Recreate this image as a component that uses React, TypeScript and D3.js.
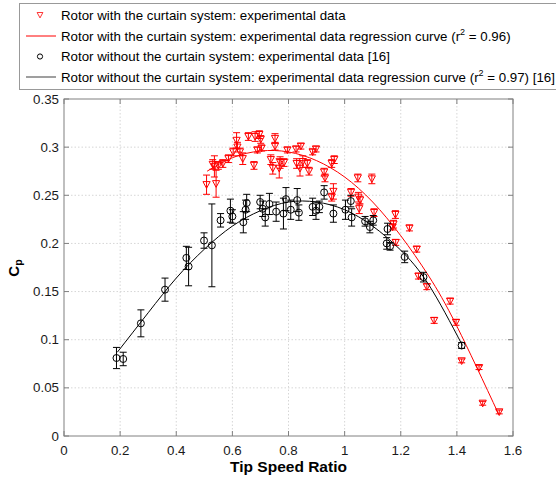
import React from "react";
import * as d3 from "d3";

// ---- data ----
const xTicks = [0, 0.2, 0.4, 0.6, 0.8, 1, 1.2, 1.4, 1.6];
const yTicks = [0, 0.05, 0.1, 0.15, 0.2, 0.25, 0.3, 0.35];

// Rotor with the curtain system: experimental data
const curtainTsr = [0.508, 0.536, 0.542, 0.530, 0.550, 0.566, 0.586, 0.603, 0.615, 0.618, 0.627, 0.637, 0.657, 0.681, 0.696, 0.701, 0.677, 0.689, 0.704, 0.737, 0.752, 0.752, 0.744, 0.767, 0.770, 0.784, 0.796, 0.827, 0.844, 0.829, 0.841, 0.851, 0.867, 0.873, 0.886, 0.898, 0.927, 0.930, 0.954, 0.963, 0.960, 0.954, 1.023, 1.047, 1.049, 1.055, 1.052, 1.097, 1.105, 1.174, 1.171, 1.181, 1.182, 1.231, 1.257, 1.263, 1.293, 1.319, 1.376, 1.397, 1.417, 1.479, 1.492, 1.551];
const curtainCp = [0.261, 0.280, 0.262, 0.282, 0.281, 0.283, 0.288, 0.295, 0.307, 0.300, 0.295, 0.288, 0.311, 0.311, 0.313, 0.308, 0.281, 0.297, 0.299, 0.287, 0.309, 0.301, 0.278, 0.278, 0.284, 0.284, 0.297, 0.298, 0.301, 0.283, 0.278, 0.285, 0.283, 0.275, 0.295, 0.298, 0.274, 0.268, 0.283, 0.287, 0.254, 0.248, 0.253, 0.268, 0.248, 0.245, 0.236, 0.267, 0.232, 0.220, 0.217, 0.230, 0.201, 0.216, 0.194, 0.166, 0.155, 0.120, 0.140, 0.118, 0.078, 0.071, 0.034, 0.025];
const curtainErr = [0.010, 0.011, 0.014, 0.005, 0.004, 0.004, 0.004, 0.004, 0.008, 0.005, 0.004, 0.006, 0.004, 0.005, 0.004, 0.004, 0.004, 0.003, 0.003, 0.005, 0.005, 0.004, 0.006, 0.010, 0.006, 0.004, 0.003, 0.003, 0.003, 0.005, 0.008, 0.006, 0.004, 0.004, 0.003, 0.003, 0.004, 0.004, 0.004, 0.004, 0.008, 0.004, 0.004, 0.004, 0.005, 0.004, 0.005, 0.005, 0.004, 0.004, 0.003, 0.004, 0.003, 0.003, 0.003, 0.003, 0.003, 0.003, 0.003, 0.003, 0.002, 0.002, 0.002, 0.002];

// Rotor with the curtain system: regression curve
const curtainFitTsr = [0.51, 0.6, 0.7, 0.8, 0.9, 1.0, 1.1, 1.2, 1.3, 1.4, 1.55];
const curtainFitCp = [0.275, 0.289, 0.296, 0.295, 0.286, 0.269, 0.243, 0.208, 0.166, 0.114, 0.022];

// Rotor without the curtain system: experimental data [16]
const bareTsr = [0.187, 0.211, 0.274, 0.360, 0.436, 0.444, 0.499, 0.527, 0.558, 0.593, 0.600, 0.639, 0.647, 0.651, 0.699, 0.708, 0.717, 0.732, 0.756, 0.782, 0.791, 0.808, 0.831, 0.837, 0.886, 0.898, 0.910, 0.927, 0.960, 1.003, 1.022, 1.025, 1.073, 1.090, 1.102, 1.150, 1.153, 1.162, 1.214, 1.281, 1.417];
const bareCp = [0.081, 0.080, 0.117, 0.152, 0.185, 0.176, 0.203, 0.198, 0.224, 0.234, 0.228, 0.222, 0.235, 0.242, 0.243, 0.236, 0.227, 0.241, 0.233, 0.231, 0.246, 0.235, 0.245, 0.232, 0.238, 0.234, 0.238, 0.253, 0.231, 0.235, 0.244, 0.227, 0.223, 0.217, 0.224, 0.200, 0.215, 0.197, 0.186, 0.165, 0.094];
const bareErr = [0.011, 0.007, 0.014, 0.012, 0.012, 0.020, 0.008, 0.043, 0.007, 0.012, 0.007, 0.011, 0.010, 0.009, 0.007, 0.008, 0.009, 0.011, 0.010, 0.016, 0.012, 0.010, 0.012, 0.008, 0.009, 0.009, 0.006, 0.007, 0.009, 0.010, 0.006, 0.009, 0.005, 0.006, 0.005, 0.006, 0.006, 0.004, 0.006, 0.005, 0.003];

// Rotor without the curtain system: regression curve [16]
const bareFitTsr = [0.19, 0.3, 0.4, 0.5, 0.6, 0.7, 0.8, 0.9, 1.0, 1.1, 1.2, 1.3, 1.42];
const bareFitCp = [0.087, 0.128, 0.164, 0.194, 0.218, 0.234, 0.243, 0.243, 0.235, 0.218, 0.193, 0.157, 0.094];

const legendLabels = [
  "Rotor with the curtain system: experimental data",
  "Rotor with the curtain system: experimental data regression curve (r",
  "Rotor without the curtain system: experimental data [16]",
  "Rotor without the curtain system: experimental data regression curve (r",
];
const legendSuffix = ["", " = 0.96)", "", " = 0.97) [16]"];

const W = 556;
const H = 482;
const M = { left: 64, right: 513, top: 99, bottom: 436 };
const RED = "#ff0000";
const FONT = "'Liberation Sans', Arial, Helvetica, sans-serif";

const triPath = "M-3.6,-3.1L3.6,-3.1L0,3.6Z";

export default function App() {
  const x = d3.scaleLinear().domain([0, 1.6]).range([M.left, M.right]);
  const y = d3.scaleLinear().domain([0, 0.35]).range([M.bottom, M.top]);
  const line = d3
    .line<[number, number]>()
    .x((d) => x(d[0]))
    .y((d) => y(d[1]))
    .curve(d3.curveNatural);

  const curtainFit = curtainFitTsr.map((t, i) => [t, curtainFitCp[i]] as [number, number]);
  const bareFit = bareFitTsr.map((t, i) => [t, bareFitCp[i]] as [number, number]);

  const cap = 3.5;
  const errBar = (xv: number, yv: number, e: number, color: string, key: string) => {
    const px = x(xv);
    const y1 = y(yv - e);
    const y2 = y(yv + e);
    return (
      <g key={key} stroke={color} strokeWidth={1} fill="none">
        <line x1={px} x2={px} y1={y1} y2={y2} />
        <line x1={px - cap} x2={px + cap} y1={y1} y2={y1} />
        <line x1={px - cap} x2={px + cap} y1={y2} y2={y2} />
      </g>
    );
  };

  const legendY = [15, 36, 56.5, 77];

  return (
    <svg
      width={W}
      height={H}
      style={{ position: "absolute", left: 0, top: 0, background: "#fff" }}
      fontFamily={FONT}
    >
      <rect x={0} y={0} width={W} height={H} fill="#fff" />
      {/* grid */}
      <g stroke="#d6d6d6" strokeWidth={1} strokeDasharray="1.5,2">
        {xTicks.slice(1, -1).map((t) => (
          <line key={"gx" + t} x1={x(t)} x2={x(t)} y1={M.top} y2={M.bottom} />
        ))}
        {yTicks.slice(1, -1).map((t) => (
          <line key={"gy" + t} x1={M.left} x2={M.right} y1={y(t)} y2={y(t)} />
        ))}
      </g>
      {/* ticks */}
      <g stroke="#808080" strokeWidth={1}>
        {xTicks.map((t) => (
          <g key={"tx" + t}>
            <line x1={x(t)} x2={x(t)} y1={M.bottom} y2={M.bottom - 5} />
            <line x1={x(t)} x2={x(t)} y1={M.top} y2={M.top + 5} />
          </g>
        ))}
        {yTicks.map((t) => (
          <g key={"ty" + t}>
            <line x1={M.left} x2={M.left + 5} y1={y(t)} y2={y(t)} />
            <line x1={M.right} x2={M.right - 5} y1={y(t)} y2={y(t)} />
          </g>
        ))}
      </g>
      {/* box */}
      <rect
        x={M.left}
        y={M.top}
        width={M.right - M.left}
        height={M.bottom - M.top}
        fill="none"
        stroke="#808080"
        strokeWidth={1}
      />
      {/* tick labels */}
      <g fontSize={13.3} fill="#1a1a1a">
        {xTicks.map((t) => (
          <text key={"lx" + t} x={x(t)} y={M.bottom + 19} textAnchor="middle">
            {String(t)}
          </text>
        ))}
        {yTicks.map((t) => (
          <text key={"ly" + t} x={M.left - 5} y={y(t) + 4.5} textAnchor="end">
            {String(t)}
          </text>
        ))}
      </g>
      {/* axis titles */}
      <text x={(M.left + M.right) / 2} y={472} textAnchor="middle" fontSize={15.5} fontWeight="bold" fill="#000">
        Tip Speed Ratio
      </text>
      <text
        transform={`translate(19,268) rotate(-90)`}
        textAnchor="middle"
        fontSize={15}
        fontWeight="bold"
        fill="#000"
      >
        C
        <tspan fontSize={10.5} dy={3}>
          p
        </tspan>
      </text>

      {/* curtain series */}
      <path d={line(curtainFit) || ""} fill="none" stroke={RED} strokeWidth={1} />
      {curtainTsr.map((t, i) => errBar(t, curtainCp[i], curtainErr[i], RED, "ce" + i))}
      {curtainTsr.map((t, i) => (
        <path
          key={"cm" + i}
          d={triPath}
          transform={`translate(${x(t)},${y(curtainCp[i])})`}
          fill="none"
          stroke={RED}
          strokeWidth={1}
        />
      ))}

      {/* bare rotor series */}
      <path d={line(bareFit) || ""} fill="none" stroke="#000" strokeWidth={1} />
      {bareTsr.map((t, i) => errBar(t, bareCp[i], bareErr[i], "#000", "be" + i))}
      {bareTsr.map((t, i) => (
        <circle key={"bm" + i} cx={x(t)} cy={y(bareCp[i])} r={3.5} fill="none" stroke="#000" strokeWidth={1} />
      ))}

      {/* legend */}
      <rect x={19.5} y={3.5} width={540} height={86} fill="#fff" stroke="#999" strokeWidth={1} />
      <path d={triPath} transform={`translate(40,${legendY[0]}) scale(0.8)`} fill="none" stroke={RED} strokeWidth={1} />
      <line x1={26} x2={56} y1={legendY[1]} y2={legendY[1]} stroke={RED} strokeWidth={1} />
      <circle cx={40} cy={legendY[2]} r={2.6} fill="none" stroke="#000" strokeWidth={1} />
      <line x1={26} x2={56} y1={legendY[3]} y2={legendY[3]} stroke="#000" strokeWidth={1} opacity={0.75} />
      <g fontSize={13.3} fill="#000">
        {legendLabels.map((lab, i) => (
          <text key={"lg" + i} x={61} y={legendY[i] + 4.5}>
            {lab}
            {legendSuffix[i] ? (
              <>
                <tspan fontSize={9} dy={-5.5}>
                  2
                </tspan>
                <tspan dy={5.5}>{legendSuffix[i]}</tspan>
              </>
            ) : null}
          </text>
        ))}
      </g>
    </svg>
  );
}
